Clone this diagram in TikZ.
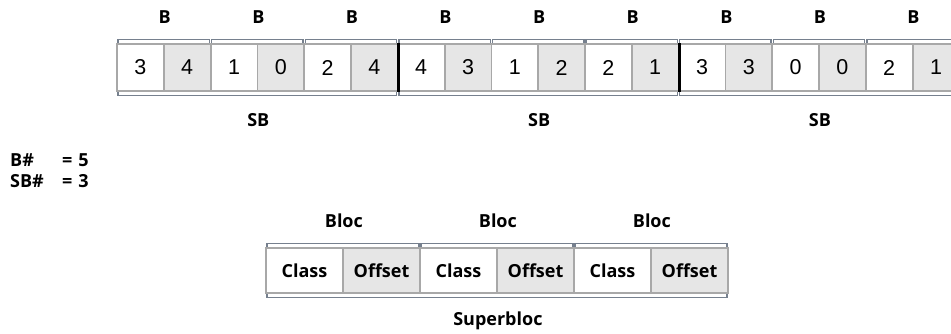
\documentclass[tikz,border=0pt]{standalone}
\usepackage{fontspec}
\usetikzlibrary{calc}
\setmainfont{Open Sans}
\newfontfamily\numfont{Liberation Sans}
\definecolor{cellgray}{HTML}{E6E6E6}
\definecolor{edgegray}{HTML}{A8A8A8}
\definecolor{brk}{HTML}{76808E}
\begin{document}
\begin{tikzpicture}[x=1pt,y=-1pt,
  numcell/.style={rectangle,draw=edgegray,line width=1.8pt,minimum width=46.8pt,minimum height=47pt,inner sep=0pt,font=\numfont\fontsize{21.5}{24}\selectfont},
  wordcell/.style={rectangle,draw=edgegray,line width=1.8pt,minimum width=77pt,minimum height=45pt,inner sep=0pt,font=\bfseries\fontsize{18}{20}\selectfont},
  shade/.style={fill=cellgray},
  lbl/.style={font=\bfseries\fontsize{18}{20}\selectfont,inner sep=0pt},
  bracket/.style={draw=brk,line width=1.3pt},
  sep/.style={draw=black,line width=3pt}]
\clip (0,0) rectangle (951,333);
\fill[white] (0,0) rectangle (951,333);
% top row cells
\foreach \v [count=\i] in {3,4,1,0,2,4,4,3,1,2,2,1,3,3,0,0,2,1}{
  \pgfmathsetmacro{\cx}{117+46.8*(\i-0.5)}
  \ifodd\i
    \node[numcell] (c\i) at (\cx,67.5) {\v};
  \else
    \node[numcell,shade] (c\i) at (\cx,67.5) {\v};
  \fi
}
% B labels and brackets
\foreach \k in {1,...,9}{
  \pgfmathtruncatemacro{\a}{2*\k-1}
  \pgfmathtruncatemacro{\b}{2*\k}
  \node[lbl] (b\k) at ([yshift=26pt]c\a.north east) {B};
  \draw[bracket] ([xshift=2pt,yshift=0.5pt]c\a.north west) -- ([xshift=2pt,yshift=3.5pt]c\a.north west)
     -- ([xshift=-2pt,yshift=3.5pt]c\b.north east) -- ([xshift=-2pt,yshift=0.5pt]c\b.north east);
}
% SB labels and brackets
\foreach \k in {1,2,3}{
  \pgfmathtruncatemacro{\a}{6*\k-5}
  \pgfmathtruncatemacro{\b}{6*\k}
  \pgfmathtruncatemacro{\m}{6*\k-3}
  \node[lbl] (sb\k) at ([yshift=-28pt]c\m.south east) {SB};
  \draw[bracket] ([xshift=2pt,yshift=-0.5pt]c\a.south west) -- ([xshift=2pt,yshift=-3.5pt]c\a.south west)
     -- ([xshift=-2pt,yshift=-3.5pt]c\b.south east) -- ([xshift=-2pt,yshift=-0.5pt]c\b.south east);
}
% superblock separators
\draw[sep] (c6.north east) -- (c6.south east);
\draw[sep] (c12.north east) -- (c12.south east);
% legend
\node[lbl,anchor=west] (lb) at (10,160) {B\#};
\node[lbl,anchor=west] (lbv) at (62,160) {=\,\,5};
\node[lbl,anchor=west] (ls) at (10,181) {SB\#};
\node[lbl,anchor=west] (lsv) at (62,181) {=\,\,3};
% bottom superbloc
\foreach \w [count=\i] in {Class,Offset,Class,Offset,Class,Offset}{
  \pgfmathsetmacro{\cx}{266+77*(\i-0.5)}
  \ifodd\i
    \node[wordcell] (w\i) at (\cx,270.5) {\w};
  \else
    \node[wordcell,shade] (w\i) at (\cx,270.5) {\w};
  \fi
}
\foreach \k in {1,2,3}{
  \pgfmathtruncatemacro{\a}{2*\k-1}
  \pgfmathtruncatemacro{\b}{2*\k}
  \node[lbl] (bl\k) at ([yshift=26pt]w\a.north east) {Bloc};
  \draw[bracket] ([xshift=2pt,yshift=0.5pt]w\a.north west) -- ([xshift=2pt,yshift=3.5pt]w\a.north west)
     -- ([xshift=-2pt,yshift=3.5pt]w\b.north east) -- ([xshift=-2pt,yshift=0.5pt]w\b.north east);
}
\draw[bracket] ([xshift=2pt,yshift=-0.5pt]w1.south west) -- ([xshift=2pt,yshift=-3.5pt]w1.south west)
   -- ([xshift=-2pt,yshift=-3.5pt]w6.south east) -- ([xshift=-2pt,yshift=-0.5pt]w6.south east);
\node[lbl] (sup) at ([yshift=-27pt]w3.south east) {Superbloc};
\end{tikzpicture}
\end{document}
